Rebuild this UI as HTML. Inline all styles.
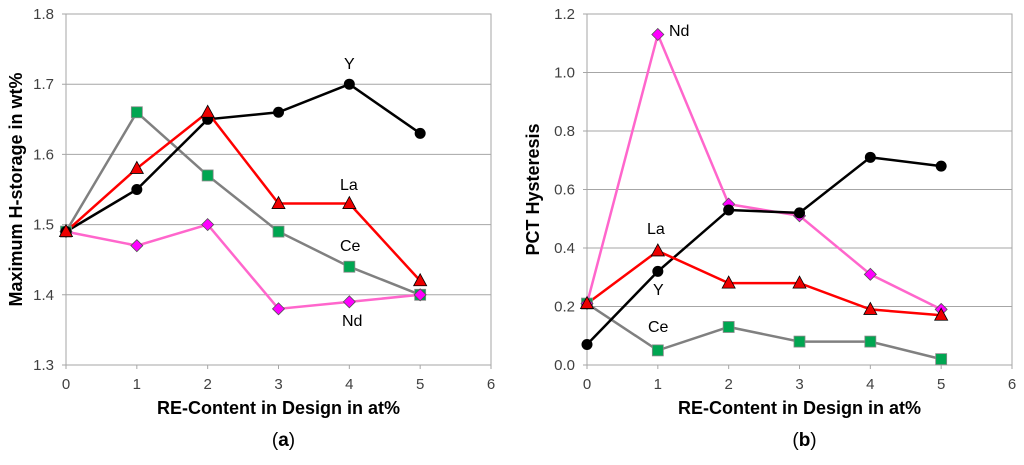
<!DOCTYPE html>
<html><head><meta charset="utf-8"><style>
body{margin:0;background:#fff;}
svg text{font-family:"Liberation Sans",sans-serif;}
</style></head><body>
<svg width="1024" height="460" viewBox="0 0 1024 460" xmlns="http://www.w3.org/2000/svg">
<g id="pa"></g>
<g id="pb"></g>
</svg>
<script>
const xCats=[0,1,2,3,4,5];
const xTicks=[0,1,2,3,4,5,6];
const aTicks=[1.3,1.4,1.5,1.6,1.7,1.8];
const aY=[1.49,1.55,1.65,1.66,1.70,1.63];
const aLa=[1.49,1.58,1.66,1.53,1.53,1.42];
const aCe=[1.49,1.66,1.57,1.49,1.44,1.40];
const aNd=[1.49,1.47,1.50,1.38,1.39,1.40];
const bTicks=[0.0,0.2,0.4,0.6,0.8,1.0,1.2];
const bY=[0.07,0.32,0.53,0.52,0.71,0.68];
const bLa=[0.21,0.39,0.28,0.28,0.19,0.17];
const bCe=[0.21,0.05,0.13,0.08,0.08,0.02];
const bNd=[0.21,1.13,0.55,0.51,0.31,0.19];
const NS="http://www.w3.org/2000/svg";
function mk(parent,tag,attrs,text){const e=document.createElementNS(NS,tag);for(const k in attrs)e.setAttribute(k,attrs[k]);if(text!==undefined)e.textContent=text;parent.appendChild(e);return e;}
function chart(g,x0,x1,y0,y1,ticks,dec,series,labels,ytitle,letter){
  const vmin=ticks[0],vmax=ticks[ticks.length-1];
  const sx=v=>x0+(v-0)/(6-0)*(x1-x0);
  const sy=v=>y1-(v-vmin)/(vmax-vmin)*(y1-y0);
  ticks.forEach(t=>{
    const l=mk(g,'line',{x1:x0-4,x2:x1,y1:sy(t),y2:sy(t),stroke:'#a6a6a6','stroke-width':1});
    
    
    const tx=mk(g,'text',{x:x0-12,y:sy(t)+5,'text-anchor':'end','font-size':15,fill:'#404040'},t.toFixed(dec));
    
    
  });
  const ax=mk(g,'rect',{x:x0,y:y0,width:x1-x0,height:y1-y0,fill:'none',stroke:'#a6a6a6','stroke-width':1});
  
  
  xTicks.forEach(t=>{
    const l=mk(g,'line',{x1:sx(t),x2:sx(t),y1:y1,y2:y1+4,stroke:'#a6a6a6'});
    
    
    const tx=mk(g,'text',{x:sx(t),y:y1+24,'text-anchor':'middle','font-size':15,fill:'#404040'},t);
    
    
  });
  series.forEach(s=>{
    const pts=s.v.map((v,i)=>sx(xCats[i])+','+sy(v)).join(' ');
    const pl=mk(g,'polyline',{points:pts,fill:'none',stroke:s.c,'stroke-width':2.5});
    
    
  });
  series.forEach(s=>{
    s.v.forEach((v,i)=>{
      const cx=sx(xCats[i]),cy=sy(v);let m;
      if(s.m==='circle')m=mk(g,'circle',{cx:cx,cy:cy,r:5.5,fill:'#000'});
      else if(s.m==='tri')m=mk(g,'polygon',{points:`${cx},${cy-7} ${cx+6.5},${cy+5} ${cx-6.5},${cy+5}`,fill:'#e00',stroke:'#000','stroke-width':0.8});
      else if(s.m==='sq')m=mk(g,'rect',{x:cx-5.5,y:cy-5.5,width:11,height:11,fill:'#00a651',stroke:'#888','stroke-width':0.8});
      else m=mk(g,'polygon',{points:`${cx},${cy-6} ${cx+6},${cy} ${cx},${cy+6} ${cx-6},${cy}`,fill:'#f0f',stroke:'#555','stroke-width':0.8});
      
      
    });
  });
  labels.forEach(l=>{
    const t=mk(g,'text',{x:l[1],y:l[2],'font-size':16,fill:'#000'},l[0]);
    
    
  });
  const xt=mk(g,'text',{x:(x0+x1)/2,y:y1+49,'text-anchor':'middle','font-size':18,'font-weight':'bold',fill:'#000'},'RE-Content in Design in at%');
  
  
  const yc=(y0+y1)/2, yx=ytitle[1];
  const yt=mk(g,'text',{x:yx,y:yc,'text-anchor':'middle','font-size':18,'font-weight':'bold',fill:'#000',transform:`rotate(-90 ${yx} ${yc})`},ytitle[0]);
  
  
  const lt=mk(g,'text',{x:(x0+x1)/2+5,y:y1+81,'text-anchor':'middle','font-size':19,fill:'#000','font-family':'Liberation Serif, serif'},'');
  lt.innerHTML='(<tspan font-weight="bold">'+letter+'</tspan>)';
  
  
}
chart(document.getElementById('pa'),66,491,14,365,aTicks,1,
 [{n:'ce',v:aCe,c:'#808080',m:'sq'},{n:'nd',v:aNd,c:'#ff66cc',m:'dia'},{n:'y',v:aY,c:'#000',m:'circle'},{n:'la',v:aLa,c:'#f00',m:'tri'}],
 [['Y',344,69],['La',340,190],['Ce',340,251],['Nd',342,326]],['Maximum H-storage in wt%',22],'a');
chart(document.getElementById('pb'),587,1012,14,365,bTicks,1,
 [{n:'ce',v:bCe,c:'#808080',m:'sq'},{n:'nd',v:bNd,c:'#ff66cc',m:'dia'},{n:'y',v:bY,c:'#000',m:'circle'},{n:'la',v:bLa,c:'#f00',m:'tri'}],
 [['Nd',669,36],['La',647,234],['Y',653,295],['Ce',648,332]],['PCT Hysteresis',539],'b');
</script>
</body></html>
